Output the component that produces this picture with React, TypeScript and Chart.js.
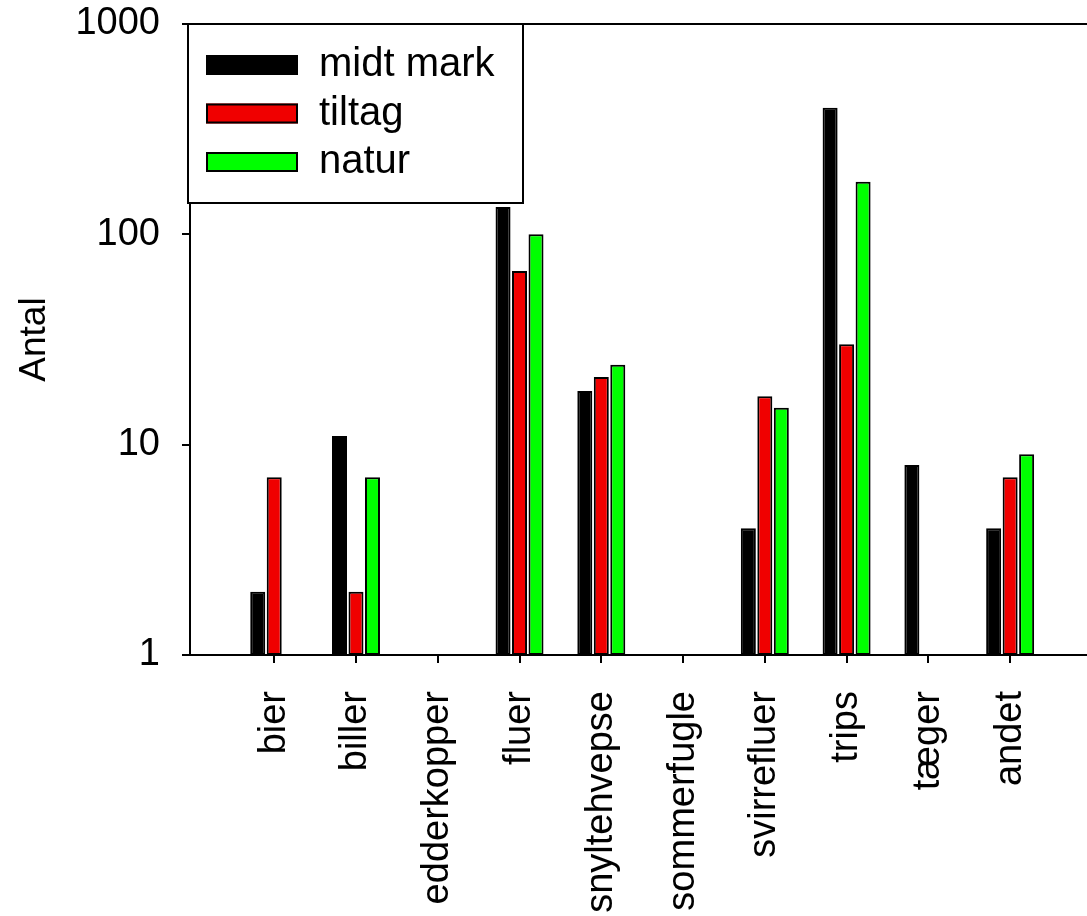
import { useEffect, useRef } from 'react';
import { Chart, registerables } from 'chart.js';

Chart.register(...registerables);

const categories = ['bier', 'biller', 'edderkopper', 'fluer', 'snyltehvepse', 'sommerfugle', 'svirrefluer', 'trips', 'tæger', 'andet'];
const seriesNames = ['midt mark', 'tiltag', 'natur'];
const midtMark = [2, 11, null, 135, 18, null, 4, 400, 8, 4];
const tiltag = [7, 2, null, 67, 21, null, 17, 30, null, 7];
const natur = [null, 7, null, 100, 24, null, 15, 178, null, 9];
const yTicks = [1, 10, 100, 1000];
const seriesColors = ['#000000', '#f00000', '#00ff00'];

const FONT = '"Liberation Sans", Arial, Helvetica, sans-serif';

export default function App() {
  const ref = useRef<HTMLCanvasElement>(null);

  useEffect(() => {
    if (!ref.current) return;
    const toPts = (arr: (number | null)[]) => arr.map((v, i) => ({ x: i + 1, y: v }));

    const frame = {
      id: 'frame',
      afterDraw(chart: any) {
        const { ctx, chartArea } = chart;
        ctx.save();
        ctx.strokeStyle = '#000';
        ctx.lineWidth = 2;
        ctx.beginPath();
        ctx.moveTo(chartArea.left, chartArea.top);
        ctx.lineTo(chartArea.right, chartArea.top);
        ctx.stroke();
        ctx.restore();
      },
    };

    const legendBox = {
      id: 'legendBox',
      afterDraw(chart: any) {
        const { ctx, chartArea } = chart;
        ctx.save();
        const bx = chartArea.left - 2;
        const by = chartArea.top;
        const bw = 335;
        const bh = 179;
        ctx.fillStyle = '#fff';
        ctx.fillRect(bx, by, bw, bh);
        ctx.lineWidth = 2;
        ctx.strokeStyle = '#000';
        ctx.strokeRect(bx, by, bw, bh);
        chart.data.datasets.forEach((ds: any, i: number) => {
          const cy = by + 41 + i * 48.5;
          ctx.fillStyle = ds.backgroundColor;
          ctx.fillRect(bx + 18, cy - 10, 92, 20);
          ctx.lineWidth = 2;
          ctx.strokeStyle = '#000';
          ctx.strokeRect(bx + 19, cy - 9, 90, 18);
          ctx.fillStyle = '#000';
          ctx.font = `40px ${FONT}`;
          ctx.textBaseline = 'middle';
          ctx.textAlign = 'left';
          ctx.fillText(ds.label, bx + 131, cy);
        });
        ctx.restore();
      },
    };

    const mk = (i: number, arr: (number | null)[]) => ({
      label: seriesNames[i],
      data: toPts(arr),
      backgroundColor: seriesColors[i],
      borderColor: '#000',
      borderWidth: 2,
      borderSkipped: false,
      categoryPercentage: 0.605,
      barPercentage: 0.91,
    });

    const chart = new Chart(ref.current, {
      type: 'bar',
      data: {
        datasets: [mk(0, midtMark), mk(1, tiltag), mk(2, natur)] as any,
      },
      options: {
        animation: false,
        responsive: false,
        devicePixelRatio: 1,
        layout: { padding: { top: 24, left: 0, right: 0, bottom: 0 } },
        plugins: { legend: { display: false }, tooltip: { enabled: false } },
        scales: {
          x: {
            type: 'linear',
            min: -0.03,
            max: 10.94,
            offset: false,
            afterBuildTicks: (s: any) => {
              s.ticks = categories.map((_, i) => ({ value: i + 1 }));
            },
            afterFit: (s: any) => {
              s.height = 261;
              s.paddingLeft = 0;
              s.paddingRight = 0;
            },
            grid: {
              display: true,
              offset: false,
              drawOnChartArea: false,
              drawTicks: true,
              tickLength: 8,
              color: '#000',
              lineWidth: 2,
            },
            border: { display: true, color: '#000', width: 2 },
            ticks: {
              autoSkip: false,
              minRotation: 90,
              maxRotation: 90,
              padding: 28,
              color: '#000',
              font: { family: FONT, size: 38 },
              callback: (v: any) => categories[Math.round(Number(v)) - 1] ?? '',
            },
          },
          y: {
            type: 'logarithmic',
            min: 1,
            max: 1000,
            afterBuildTicks: (s: any) => {
              s.ticks = yTicks.map((v) => ({ value: v }));
            },
            afterFit: (s: any) => {
              s.width = 190;
              s.paddingTop = 0;
              s.paddingBottom = 0;
            },
            grid: {
              display: true,
              drawOnChartArea: false,
              drawTicks: true,
              tickLength: 8,
              color: '#000',
              lineWidth: 2,
            },
            border: { display: true, color: '#000', width: 2 },
            ticks: {
              padding: 22,
              color: '#000',
              font: { family: FONT, size: 38 },
              callback: (v: any) => String(v),
            },
            title: {
              display: true,
              text: 'Antal',
              color: '#000',
              font: { family: FONT, size: 37 },
              padding: { top: 13, bottom: 0 },
            },
          },
        },
      } as any,
      plugins: [frame, legendBox],
    });
    return () => chart.destroy();
  }, []);

  return (
    <div style={{ position: 'absolute', left: 0, top: 0, width: 1087, height: 916, background: '#fff', overflow: 'hidden' }}>
      <canvas ref={ref} width={1087} height={916} style={{ display: 'block', width: 1087, height: 916 }} />
    </div>
  );
}
